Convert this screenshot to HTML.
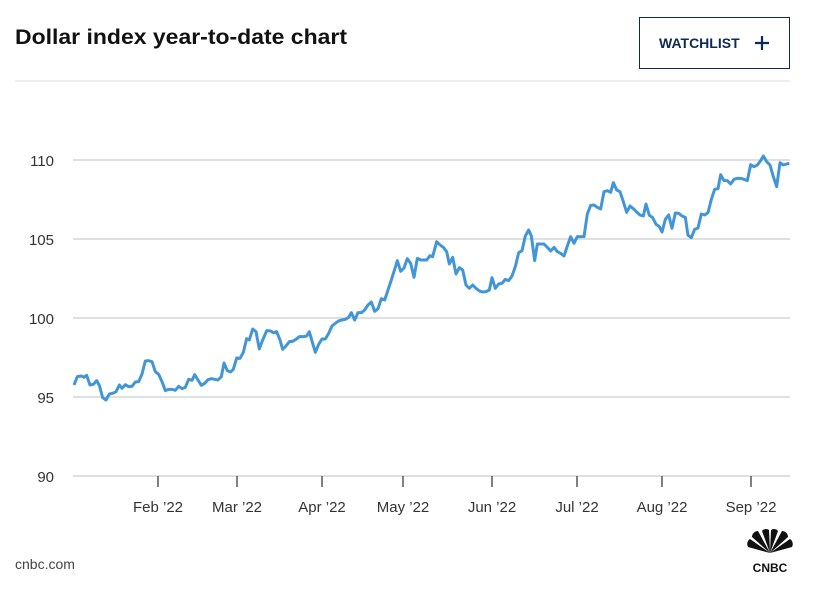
<!DOCTYPE html>
<html><head><meta charset="utf-8"><style>
body{margin:0;background:#fff;width:815px;height:595px;overflow:hidden;font-family:"Liberation Sans",sans-serif;}
</style></head><body>
<svg width="815" height="595" xmlns="http://www.w3.org/2000/svg" style="position:absolute;left:0;top:0">
<text x="15" y="44" font-size="21" font-weight="bold" fill="#111" textLength="332" lengthAdjust="spacingAndGlyphs" font-family="Liberation Sans, sans-serif">Dollar index year-to-date chart</text>
<rect x="639.5" y="17.5" width="150" height="51" fill="none" stroke="#0e2a52" stroke-width="1"/>
<text x="659" y="48" font-size="14" font-weight="bold" fill="#0e2a52" font-family="Liberation Sans, sans-serif">WATCHLIST</text>
<path d="M755 43h14M762 36v14" stroke="#0e2a52" stroke-width="2.2"/>
<line x1="15" y1="81" x2="790" y2="81" stroke="#ddd" stroke-width="1"/>
<g stroke="#d6d6d6" stroke-width="1.5">
<line x1="73" y1="160" x2="790" y2="160"/><line x1="73" y1="239" x2="790" y2="239"/>
<line x1="73" y1="318" x2="790" y2="318"/><line x1="73" y1="397" x2="790" y2="397"/>
<line x1="73" y1="476" x2="790" y2="476"/></g>
<g font-size="15" fill="#333" text-anchor="end" font-family="Liberation Sans, sans-serif">
<text x="54" y="166">110</text><text x="54" y="245">105</text><text x="54" y="324">100</text><text x="54" y="403">95</text><text x="54" y="482">90</text></g>
<g stroke="#555" stroke-width="1.5">
<line x1="158" y1="476" x2="158" y2="487"/><line x1="237" y1="476" x2="237" y2="487"/><line x1="322" y1="476" x2="322" y2="487"/><line x1="403" y1="476" x2="403" y2="487"/><line x1="492" y1="476" x2="492" y2="487"/><line x1="577" y1="476" x2="577" y2="487"/><line x1="662" y1="476" x2="662" y2="487"/><line x1="751" y1="476" x2="751" y2="487"/></g>
<g font-size="15" fill="#333" text-anchor="middle" font-family="Liberation Sans, sans-serif">
<text x="158" y="512">Feb ’22</text><text x="237" y="512">Mar ’22</text><text x="322" y="512">Apr ’22</text><text x="403" y="512">May ’22</text><text x="492" y="512">Jun ’22</text><text x="577" y="512">Jul ’22</text><text x="662" y="512">Aug ’22</text><text x="751" y="512">Sep ’22</text></g>
<g transform="translate(60,230) scale(0.33333)" fill="none" stroke="#4396d6" stroke-width="9" stroke-linejoin="round">
<polyline points="42,465 52,440 65,438 72,442 80,436 90,465 100,463 110,452 118,466 128,503 138,510 148,492 158,490 168,485 178,465 186,475 196,464 206,470 216,469 226,456 236,455 246,432 256,393 266,392 276,395 286,425 296,433 306,455 316,482 326,478 336,478 346,481 356,469 366,476 376,472 386,448 396,451 404,434 414,450 424,466 434,460 444,449 454,446 464,448 474,450 484,440 492,399 502,422 512,426 520,418 530,384 540,385 550,367 560,326 568,330 578,297 588,305 598,357 608,330 620,302 632,303 640,308 650,305 660,330 668,358 678,348 688,335 698,334 708,328 718,320 730,320 740,318 748,305 758,340 766,367 776,343 786,327 796,327 806,310 816,288 826,280 836,273 846,270 856,268 866,262 874,248 884,270 894,248 904,248 914,240 924,225 934,216 944,244 954,236 964,206 974,210 984,180 994,150 1004,118 1012,92 1022,124 1032,114 1042,86 1052,100 1062,142 1072,85 1082,90 1100,90 1110,77 1118,80 1130,35 1140,45"/></g>
<g transform="translate(430,140) scale(0.33333)" fill="none" stroke="#4396d6" stroke-width="9" stroke-linejoin="round">
<polyline points="30,315 40,322 50,335 58,372 68,352 78,402 88,383 98,390 108,435 118,445 128,435 138,445 148,453 158,456 168,455 178,450 186,413 196,445 206,432 216,430 226,418 236,422 246,408 256,380 266,338 276,332 286,288 296,270 304,288 314,362 322,312 332,312 342,312 352,322 362,333 372,322 382,335 392,340 402,348 412,318 422,290 432,310 442,290 452,290 462,290 472,222 482,196 492,195 502,202 512,207 522,155 532,152 542,157 550,128 560,150 570,155 580,185 590,217 600,198 610,206 620,216 630,225 640,228 648,192 658,226 668,233 678,253 688,260 696,276 706,238 716,225 726,265 736,219 746,220 756,228 766,232 774,286 784,293 794,268 804,264 814,222 824,225 834,218 844,178 854,148 864,146 872,104 882,122 892,122 902,132 912,118 922,115 932,115 942,118 952,122 962,74 972,80 982,75 992,62 1000,48 1010,65 1020,75 1030,110 1040,140 1050,68 1060,75 1070,72 1078,70"/></g>
<text x="15" y="569" font-size="14" fill="#444" font-family="Liberation Sans, sans-serif">cnbc.com</text>
<g transform="translate(770,553)">
<g fill="#111"><path d="M0,0 L-22,-6 A6,6 0 0 1 -20,-14Z"/><path d="M0,0 L-18,-16 A6,6 0 0 1 -12,-22Z"/><path d="M0,0 L-8,-22 A5,5 0 0 1 -1,-23Z"/><path d="M0,0 L1,-23 A5,5 0 0 1 8,-22Z"/><path d="M0,0 L12,-22 A6,6 0 0 1 18,-16Z"/><path d="M0,0 L20,-14 A6,6 0 0 1 22,-6Z"/></g>
<text x="0" y="19" font-size="12" font-weight="bold" fill="#111" text-anchor="middle" font-family="Liberation Sans, sans-serif">CNBC</text></g>
</svg>
</body></html>
